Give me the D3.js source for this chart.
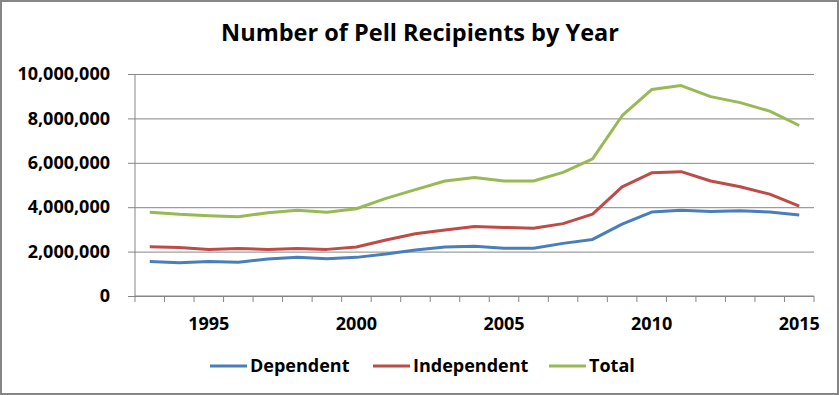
<!DOCTYPE html>
<html>
<head>
<meta charset="utf-8">
<script src="https://cdn.jsdelivr.net/npm/d3@7"></script>
<style>
  html, body { margin: 0; padding: 0; background: #fff; }
  svg text { font-family: "Liberation Sans Narrow", "Open Sans", Arial, sans-serif; font-weight: bold; fill: #000; }
</style>
</head>
<body>
<div id="chart"></div>
<script>
// Pell recipients per award year
const years = d3.range(1993, 2016);
const dependent = [1550000, 1500000, 1550000, 1520000, 1670000, 1740000, 1680000, 1740000, 1890000, 2070000,
  2210000, 2240000, 2150000, 2150000, 2370000, 2550000, 3240000, 3780000, 3860000, 3810000, 3840000, 3780000, 3650000];
const independent = [2220000, 2190000, 2100000, 2140000, 2100000, 2140000, 2100000, 2210000, 2520000, 2800000,
  2970000, 3130000, 3090000, 3050000, 3260000, 3690000, 4920000, 5550000, 5600000, 5180000, 4920000, 4590000, 4050000];
const total = [3770000, 3680000, 3620000, 3570000, 3750000, 3860000, 3770000, 3930000, 4400000, 4790000,
  5180000, 5340000, 5180000, 5180000, 5570000, 6180000, 8120000, 9300000, 9480000, 8980000, 8710000, 8330000, 7680000];
const yTicks = [0, 2000000, 4000000, 6000000, 8000000, 10000000];
const xLabels = [1995, 2000, 2005, 2010, 2015];

const series = [
  {name: 'Dependent', values: dependent, color: '#4a7ebb'},
  {name: 'Independent', values: independent, color: '#be4b48'},
  {name: 'Total', values: total, color: '#98b954'}
];

const W = 839, H = 395;
const plot = {left: 135, right: 814, top: 74, bottom: 296};

const svg = d3.select('#chart').append('svg')
  .attr('width', W).attr('height', H);

// chart border
svg.append('rect')
  .attr('x', 1).attr('y', 1).attr('width', W - 2).attr('height', H - 2)
  .attr('fill', '#fff').attr('stroke', '#868686').attr('stroke-width', 2);

svg.append('text')
  .attr('x', 420).attr('y', 41)
  .attr('text-anchor', 'middle')
  .style('font-size', '23.5px')
  .text('Number of Pell Recipients by Year');

const x = d3.scaleBand().domain(years).range([plot.left, plot.right]);
const y = d3.scaleLinear().domain([0, 10000000]).range([plot.bottom, plot.top]);

// gridlines + y labels
const yAxis = svg.append('g')
  .attr('transform', `translate(${plot.left},0)`)
  .call(d3.axisLeft(y).tickValues(yTicks).tickSize(-(plot.right - plot.left)).tickPadding(25)
    .tickFormat(d3.format(',')));
yAxis.select('.domain').remove();
yAxis.selectAll('.tick line').attr('stroke', '#868686').attr('x1', -7);
yAxis.selectAll('.tick text').style('font-size', '18px');

// vertical axis line
svg.append('line')
  .attr('x1', plot.left).attr('x2', plot.left)
  .attr('y1', plot.top).attr('y2', plot.bottom)
  .attr('stroke', '#868686');

// x axis: tick marks between categories
const xAxis = svg.append('g')
  .attr('transform', `translate(0,${plot.bottom})`);
xAxis.append('line')
  .attr('x1', plot.left).attr('x2', plot.right)
  .attr('stroke', '#868686');
const bounds = years.map(d => x(d)).concat([plot.right]);
xAxis.selectAll('.xtick').data(bounds).enter().append('line')
  .attr('x1', d => d).attr('x2', d => d)
  .attr('y1', 0).attr('y2', 6)
  .attr('stroke', '#868686');
xAxis.selectAll('.xlabel').data(xLabels).enter().append('text')
  .attr('x', d => x(d) + x.bandwidth() / 2)
  .attr('y', 34)
  .attr('text-anchor', 'middle')
  .style('font-size', '18px')
  .text(d => d);

// lines
const line = d3.line()
  .x((d, i) => x(years[i]) + x.bandwidth() / 2)
  .y(d => y(d));

svg.selectAll('.series').data(series).enter().append('path')
  .attr('d', d => line(d.values))
  .attr('fill', 'none')
  .attr('stroke', d => d.color)
  .attr('stroke-width', 3)
  .attr('stroke-linejoin', 'round');

// legend
const legendX = [210, 373, 549];
const leg = svg.selectAll('.legend').data(series).enter().append('g')
  .attr('transform', (d, i) => `translate(${legendX[i]},366)`);
leg.append('line')
  .attr('x1', 0).attr('x2', 37)
  .attr('stroke', d => d.color).attr('stroke-width', 3);
leg.append('text')
  .attr('x', 40).attr('dy', '0.35em')
  .style('font-size', '18px')
  .text(d => d.name);
</script>
</body>
</html>
